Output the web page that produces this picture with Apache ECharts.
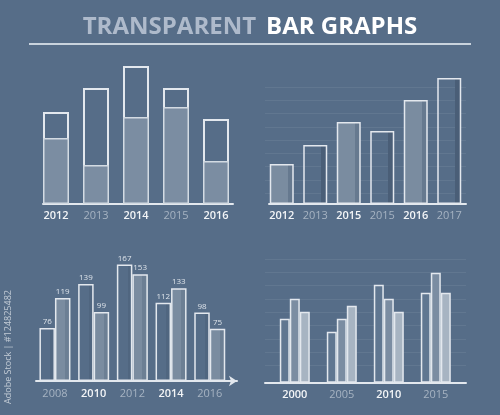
<!DOCTYPE html>
<html>
<head>
<meta charset="utf-8">
<script src="https://cdn.jsdelivr.net/npm/echarts@6/dist/echarts.min.js"></script>
<style>
html,body{margin:0;padding:0;background:#566d88;}
#c{width:500px;height:415px;}
</style>
</head>
<body>
<div id="c"></div>
<script>
// ---- data ----
const cats1 = ['2012', '2013', '2014', '2015', '2016'];
const totals1 = [92, 116, 138, 116, 85];
const fills1 = [66, 39, 87, 97, 43];

const cats2 = ['2012', '2013', '2015', '2015', '2016', '2017'];
const values2 = [40, 59, 82, 73, 104, 126];

const cats3 = ['2008', '2010', '2012', '2014', '2016'];
const values3a = [76, 139, 167, 112, 98];
const values3b = [119, 99, 153, 133, 75];

const cats4 = ['2000', '2005', '2010', '2015'];
const values4a = [64, 51, 98, 90];
const values4b = [84, 64, 84, 110];
const values4c = [71, 77, 71, 90];

// ---- styles ----
const LINE = '#e3e8ee';
const WHITE = '#f3f5f7';
const GRAY = '#a6b3c2';
const FONT = 'Open Sans';

function grad(a, b, at) {
  return new echarts.graphic.LinearGradient(0, 0, 1, 0, [
    {offset: 0, color: a}, {offset: at, color: a},
    {offset: at, color: b}, {offset: 1, color: b}
  ]);
}
function labelFmt(startWhite) {
  return function (v, i) {
    const w = (i % 2 === 0) === startWhite;
    return (w ? '{w|' : '{g|') + v + '}';
  };
}
const rich = {
  w: {color: WHITE, fontSize: 11, fontFamily: FONT, fontWeight: 600},
  g: {color: GRAY, fontSize: 11, fontFamily: FONT}
};
function catAxis(grid, data, startWhite, margin) {
  return {
    type: 'category', gridIndex: grid, data: data,
    axisLine: {show: false}, axisTick: {show: false}, splitLine: {show: false},
    axisLabel: {interval: 0, margin: margin, formatter: labelFmt(startWhite), rich: rich}
  };
}
function lineAxis(grid, arrow) {
  return {
    type: 'value', gridIndex: grid, min: 0, max: 1, position: 'bottom',
    axisLine: {show: true, onZero: false, lineStyle: {color: LINE, width: 2},
      symbol: arrow ? ['none', 'arrow'] : ['none', 'none'], symbolSize: [8, 8]},
    axisTick: {show: false}, axisLabel: {show: false}, splitLine: {show: false}
  };
}
function hiddenY(grid, max) {
  return {type: 'value', gridIndex: grid, min: 0, max: max, show: false};
}
function hiddenX(grid) {
  return {type: 'value', gridIndex: grid, min: 0, max: 1, show: false};
}
function gridLinesY(grid) {
  return {
    type: 'value', gridIndex: grid, min: 0, max: 8, interval: 1,
    axisLine: {show: false}, axisTick: {show: false}, axisLabel: {show: false},
    splitLine: {show: true, lineStyle: {color: 'rgba(255,255,255,0.07)', width: 1}}
  };
}

const option = {
  backgroundColor: '#566d88',
  animation: false,
  title: {
    text: '{a|TRANSPARENT}  {b|BAR GRAPHS}',
    left: 'center', top: 10,
    textStyle: {
      rich: {
        a: {fontSize: 24, fontWeight: 'bold', color: '#aebacb', fontFamily: FONT},
        b: {fontSize: 24, fontWeight: 'bold', color: '#ffffff', fontFamily: FONT}
      }
    }
  },
  graphic: [
    {type: 'line', shape: {x1: 29, y1: 44, x2: 471, y2: 44}, style: {stroke: '#c9d3dd', lineWidth: 2}},
    {type: 'text', x: 8, y: 347, rotation: Math.PI / 2,
      style: {text: 'Adobe Stock | #124825482', fontSize: 9, fill: '#c3ccd6', fontFamily: FONT,
        align: 'center', verticalAlign: 'middle'}}
  ],
  grid: [
    {left: 36, top: 54, width: 200, height: 150},      // 0 chart1 bars
    {left: 43, top: 54, width: 190, height: 150},      // 1 chart1 axis line
    {left: 265, top: 54, width: 201, height: 150},     // 2 chart2 bars
    {left: 269, top: 54, width: 197, height: 150},     // 3 chart2 axis line
    {left: 265, top: 87, width: 201, height: 106},     // 4 chart2 grid lines
    {left: 35.6, top: 241.4, width: 193.5, height: 139.6}, // 5 chart3 bars
    {left: 36, top: 241.4, width: 201, height: 139.6},     // 6 chart3 axis
    {left: 271.3, top: 252.7, width: 188, height: 130},    // 7 chart4 bars
    {left: 265, top: 252.7, width: 201, height: 130},      // 8 chart4 axis
    {left: 265, top: 259, width: 201, height: 106.7}       // 9 chart4 grid lines
  ],
  xAxis: [
    catAxis(0, cats1, true, 6),
    lineAxis(1, false),
    catAxis(2, cats2, true, 6),
    lineAxis(3, false),
    hiddenX(4),
    catAxis(5, cats3, false, 7),
    lineAxis(6, true),
    catAxis(7, cats4, true, 7),
    lineAxis(8, false),
    hiddenX(9)
  ],
  yAxis: [
    hiddenY(0, 150),
    hiddenY(1, 1),
    hiddenY(2, 150),
    hiddenY(3, 1),
    gridLinesY(4),
    hiddenY(5, 200),
    hiddenY(6, 1),
    hiddenY(7, 130),
    hiddenY(8, 1),
    gridLinesY(9)
  ],
  series: [
    {
      type: 'bar', xAxisIndex: 0, yAxisIndex: 0, data: totals1, barWidth: 26, barGap: '-100%', z: 3,
      itemStyle: {color: 'rgba(0,0,0,0)', borderColor: LINE, borderWidth: 2}
    },
    {
      type: 'bar', xAxisIndex: 0, yAxisIndex: 0, data: fills1, barWidth: 26, barGap: '-100%', z: 4,
      itemStyle: {color: '#7b8da2', borderColor: '#d3dbe3', borderWidth: 1.5}
    },
    {
      type: 'bar', xAxisIndex: 2, yAxisIndex: 2, barWidth: 24, z: 3,
      data: values2.map(function (v, i) {
        return {
          value: v,
          itemStyle: {
            color: i % 2 === 0 ? grad('#7a8ca0', '#66798f', 0.75) : grad('rgba(0,0,0,0)', '#4a5e77', 0.75),
            borderColor: LINE, borderWidth: 1.5
          }
        };
      })
    },
    {
      type: 'bar', xAxisIndex: 5, yAxisIndex: 5, data: values3a, barWidth: 15.5, barGap: '0%', z: 3,
      itemStyle: {color: grad('rgba(0,0,0,0)', '#506680', 0.7), borderColor: LINE, borderWidth: 1.5},
      label: {show: true, position: 'top', distance: 2, fontSize: 8, color: '#dde3ea', fontFamily: FONT}
    },
    {
      type: 'bar', xAxisIndex: 5, yAxisIndex: 5, data: values3b, barWidth: 15.5, barGap: '0%', z: 3,
      itemStyle: {color: grad('#7a8ca0', '#6c7f94', 0.65), borderColor: LINE, borderWidth: 1.5},
      label: {show: true, position: 'top', distance: 2, fontSize: 8, color: '#dde3ea', fontFamily: FONT}
    },
    {
      type: 'bar', xAxisIndex: 7, yAxisIndex: 7, data: values4a, barWidth: 10, barGap: '0%', z: 3,
      itemStyle: {color: '#607791', borderColor: LINE, borderWidth: 1.5}
    },
    {
      type: 'bar', xAxisIndex: 7, yAxisIndex: 7, data: values4b, barWidth: 10, barGap: '0%', z: 3,
      itemStyle: {color: '#7b8da2', borderColor: LINE, borderWidth: 1.5}
    },
    {
      type: 'bar', xAxisIndex: 7, yAxisIndex: 7, data: values4c, barWidth: 10, barGap: '0%', z: 3,
      itemStyle: {color: '#a7b4c2', borderColor: LINE, borderWidth: 1.5}
    }
  ]
};

const chart = echarts.init(document.getElementById('c'), null, {renderer: 'canvas'});
chart.setOption(option);
</script>
</body>
</html>
